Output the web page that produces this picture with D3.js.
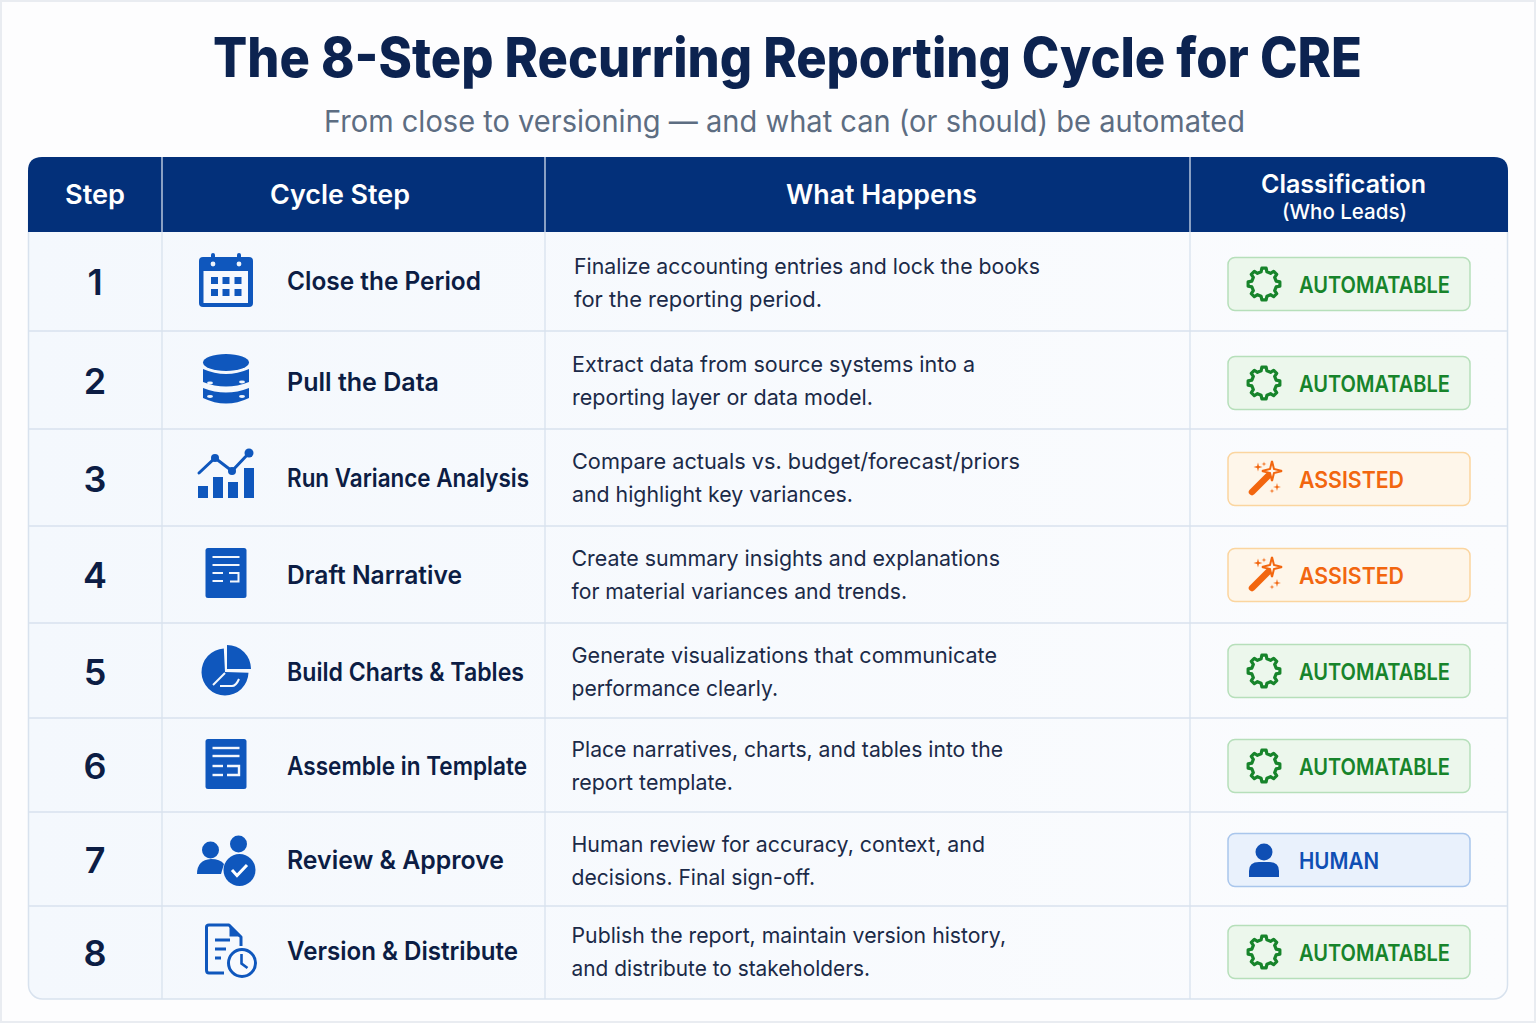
<!DOCTYPE html>
<html><head><meta charset="utf-8">
<script src="https://cdn.jsdelivr.net/npm/d3@7"></script>
<style>html,body{margin:0;padding:0;background:#fff}svg{display:block}text{font-family:Inter,"Noto Sans",sans-serif}</style>
</head><body><svg id="c" width="1536" height="1024"></svg>
<script>
const titleText = "The 8-Step Recurring Reporting Cycle for CRE";
const subtitleText = "From close to versioning — and what can (or should) be automated";
const headers = ["Step","Cycle Step","What Happens","Classification"];
const headerSub = "(Who Leads)";
const steps = [1,2,3,4,5,6,7,8];
const cycleSteps = ["Close the Period","Pull the Data","Run Variance Analysis","Draft Narrative","Build Charts & Tables","Assemble in Template","Review & Approve","Version & Distribute"];
const happensLine1 = ["Finalize accounting entries and lock the books","Extract data from source systems into a","Compare actuals vs. budget/forecast/priors","Create summary insights and explanations","Generate visualizations that communicate","Place narratives, charts, and tables into the","Human review for accuracy, context, and","Publish the report, maintain version history,"];
const happensLine2 = ["for the reporting period.","reporting layer or data model.","and highlight key variances.","for material variances and trends.","performance clearly.","report template.","decisions. Final sign-off.","and distribute to stakeholders."];
const classes = ["AUTOMATABLE","AUTOMATABLE","ASSISTED","ASSISTED","AUTOMATABLE","AUTOMATABLE","HUMAN","AUTOMATABLE"];
const icons = ["calendar","database","chart","draft","pie","template","people","version"];

// layout
const colEdges=[28,162,545,1190,1508], tableTop=157, headB=232, bot=999;
const rowEdges=[232,331,429,526,623,718,812,906,999];
const numY=d3.scaleOrdinal(steps,[281,380,478,574,671,765,859,952]);
const nameY=d3.scaleOrdinal(steps,[281,382,478,575,672,766,860,951]);
const nameW=d3.scaleOrdinal(steps,[194,152,242,175,237,240,217,231]);
const textX=d3.scaleOrdinal(steps,[574,572,572,571.5,571.5,571.5,571.5,571.5]);
const textY=d3.scaleOrdinal(steps,[273.5,371.5,468.5,566,663,757,851.5,943]);
const line1R=d3.scaleOrdinal(steps,[1040,975,1020,1000,997,1003,985,1006]);
const line2R=d3.scaleOrdinal(steps,[822,873,853,907,778,733,815,870]);
const badgeY=d3.scaleOrdinal(steps,[284,383,479,575,671,766,860,952]);
const iconC=d3.scaleOrdinal(steps,[[226,281],[226,380],[226,474],[226,573],[226,671],[226,764],[226,860],[230,950]]);
const style={AUTOMATABLE:{fg:"#17842b",bd:"#b6dfba",bg:"#ecf7ec",w:151},ASSISTED:{fg:"#f2660f",bd:"#fbd59f",bg:"#fef6ea",w:105},HUMAN:{fg:"#0f4fb4",bd:"#a9c6ec",bg:"#e9f1fc",w:80}};
const blue="#0f57bd", navy="#03307a", ink="#0c1d44", grid="#d8e2ee";
const fit=(sel,w)=>sel.attr("textLength",w).attr("lengthAdjust","spacingAndGlyphs");

const svg=d3.select("#c");
const defs=svg.append("defs");
const g1=defs.append("linearGradient").attr("id","body").attr("x1",0).attr("x2",1).attr("y1",0).attr("y2",0);
g1.append("stop").attr("offset",0).attr("stop-color","#f4f8fd");
g1.append("stop").attr("offset",1).attr("stop-color","#fbfcfe");

svg.append("rect").attr("x",1).attr("y",1).attr("width",1534).attr("height",1021).attr("fill","#fdfdfe").attr("stroke","#e9ecf1").attr("stroke-width",2);
fit(svg.append("text").attr("x",213).attr("y",77).attr("font-size",54.5).attr("font-weight",800).attr("fill","#0c2350").text(titleText),1149);
fit(svg.append("text").attr("x",324).attr("y",132).attr("font-size",30).attr("font-weight",400).attr("fill","#5d6d82").text(subtitleText),921);

// table body
svg.append("rect").attr("x",28.5).attr("y",tableTop+10).attr("width",1479).attr("height",bot-tableTop-10).attr("rx",14).attr("fill","url(#body)").attr("stroke",grid).attr("stroke-width",1.5);
// header
const x0=colEdges[0],x1=colEdges[4],r=14;
svg.append("path").attr("fill",navy).attr("d",`M${x0},${headB}V${tableTop+r}Q${x0},${tableTop} ${x0+r},${tableTop}H${x1-r}Q${x1},${tableTop} ${x1},${tableTop+r}V${headB}Z`);
// column rules
svg.selectAll(".col").data(colEdges.slice(1,4)).join("line").attr("class","col").attr("x1",d=>d).attr("x2",d=>d).attr("y1",tableTop).attr("y2",headB).attr("stroke","#e4ebf5").attr("stroke-width",1.2);
svg.selectAll(".colb").data(colEdges.slice(1,4)).join("line").attr("class","colb").attr("x1",d=>d).attr("x2",d=>d).attr("y1",headB).attr("y2",bot).attr("stroke",grid).attr("stroke-width",1.3);
svg.selectAll(".row").data(rowEdges.slice(1,8)).join("line").attr("class","row").attr("x1",x0).attr("x2",x1).attr("y1",d=>d).attr("y2",d=>d).attr("stroke",grid).attr("stroke-width",1.4);
// header labels
const hx=[65,270,786,1261], hw=[60,140,191,165], hy=[204,204,204,193];
svg.selectAll(".h").data(headers).join("text").attr("class","h").attr("x",(d,i)=>hx[i]).attr("y",(d,i)=>hy[i]).attr("textLength",(d,i)=>hw[i]).attr("lengthAdjust","spacingAndGlyphs").attr("font-size",(d,i)=>i==3?25.5:27).attr("font-weight",600).attr("fill","#fff").text(d=>d);
fit(svg.append("text").attr("x",1282).attr("y",219).attr("font-size",20.5).attr("font-weight",500).attr("fill","#fff").text(headerSub),125);

// icons
const iconFns={
 calendar(g){
  g.append("rect").attr("x",-27).attr("y",-24).attr("width",54).attr("height",50).attr("rx",4).attr("fill",blue);
  g.append("rect").attr("x",-22.5).attr("y",-10).attr("width",44.5).attr("height",32).attr("fill","#f6f9fe");
  [-13,13].forEach(x=>{g.append("rect").attr("x",x-2).attr("y",-28).attr("width",4).attr("height",9).attr("rx",2).attr("fill",blue);g.append("circle").attr("cx",x).attr("cy",-17).attr("r",2.4).attr("fill","#eef4fc");});
  [-11.5,0,12].forEach(x=>[-0.5,11.5].forEach(y=>g.append("rect").attr("x",x-3.5).attr("y",y-3.5).attr("width",7).attr("height",7).attr("fill",blue)));
 },
 database(g){
  g.append("ellipse").attr("cx",0).attr("cy",-17.5).attr("rx",23).attr("ry",8.5).attr("fill",blue);
  g.append("path").attr("fill",blue).attr("d","M-23,-11Q0,-1 23,-11V2Q0,11 -23,2Z");
  g.append("path").attr("fill",blue).attr("d","M-23,8Q0,17 23,8V18Q0,29 -23,18Z");
  [[-16,4],[16,3],[-16,17.5],[16,17.5]].forEach(([x,y])=>g.append("ellipse").attr("cx",x).attr("cy",y-1).attr("rx",3).attr("ry",1.4).attr("fill","#f0f5fc"));
 },
 chart(g){
  [[-28,12],[-13,3],[2,8],[18,-6]].forEach(([x,y])=>g.append("rect").attr("x",x).attr("y",y).attr("width",10).attr("height",24-y).attr("fill",blue));
  g.append("path").attr("fill","none").attr("stroke",blue).attr("stroke-width",3).attr("stroke-linecap","round").attr("d","M-27,-1L-11,-16L6,-3L23,-21");
  [[-11,-16,4],[6,-3,4],[23,-21,4.5]].forEach(([x,y,q])=>g.append("circle").attr("cx",x).attr("cy",y).attr("r",q).attr("fill",blue));
 },
 draft(g){
  g.append("rect").attr("x",-20.5).attr("y",-25).attr("width",41).attr("height",50).attr("rx",2.5).attr("fill",blue);
  const s=(d,w=2)=>g.append("path").attr("d",d).attr("fill","none").attr("stroke","#f3f7fd").attr("stroke-width",w);
  s("M-13.5,-16H13.5");s("M-13.5,-8H13.5");s("M-13.5,0H-3");s("M-13.5,8H-3");s("M3,0H12.5V8.5H4");
 },
 pie(g){
  g.append("path").attr("transform","translate(-1,1)").attr("fill",blue).attr("d",d3.arc().innerRadius(0).outerRadius(23.5).startAngle(Math.PI/2+.03).endAngle(2*Math.PI-.05)());
  g.append("path").attr("transform","translate(1,-2)").attr("fill",blue).attr("d",d3.arc().innerRadius(0).outerRadius(24).startAngle(0).endAngle(Math.PI/2)());
  g.append("path").attr("d","M-13,14L-1,2").attr("fill","none").attr("stroke","#f4f8fd").attr("stroke-width",2);
  g.append("path").attr("d","M-6,15H6Q10,15 13,8").attr("fill","none").attr("stroke","#f4f8fd").attr("stroke-width",2);
 },
 template(g){
  g.append("rect").attr("x",-20.5).attr("y",-25).attr("width",41).attr("height",50).attr("rx",2.5).attr("fill",blue);
  const s=(d,w=2.4)=>g.append("path").attr("d",d).attr("fill","none").attr("stroke","#f3f7fd").attr("stroke-width",w);
  s("M-13.5,-16H13.5");s("M-13.5,-8H13.5");s("M-13.5,2H-3");s("M-13.5,11H-3");s("M1,2H13V11H1");
 },
 people(g){
  g.append("circle").attr("cx",-15.5).attr("cy",-10).attr("r",8.5).attr("fill",blue);
  g.append("circle").attr("cx",12.5).attr("cy",-16).attr("r",8.5).attr("fill",blue);
  g.append("path").attr("fill",blue).attr("d","M-29,14Q-29,0 -15,-1Q-6,-1 -2,4L-5,14Z");
  g.append("circle").attr("cx",13.5).attr("cy",10).attr("r",16).attr("fill",blue);
  g.append("path").attr("d","M6,10L11,15.5L21,5").attr("fill","none").attr("stroke","#fff").attr("stroke-width",3);
 },
 version(g){
  g.append("path").attr("fill","none").attr("stroke",blue).attr("stroke-width",3).attr("stroke-linejoin","round").attr("d","M-6,23H-21Q-23.5,23 -23.5,20V-23Q-23.5,-25 -21,-25H-1L11,-13V-4");
  g.append("path").attr("fill",blue).attr("d","M-0.5,-24L10,-13.5H-0.5Z");
  g.append("path").attr("fill","none").attr("stroke",blue).attr("stroke-width",3).attr("d","M-15,-10H0M-15,-1H-4M-15,8H-9");
  g.append("circle").attr("cx",12).attr("cy",13).attr("r",13.5).attr("fill","#f8fafe").attr("stroke",blue).attr("stroke-width",3);
  g.append("path").attr("fill","none").attr("stroke",blue).attr("stroke-width",2.6).attr("d","M11.5,4V13.5L17.5,18");
 }
};
// badge glyphs
function gearPath(R,q,n){
 const pts=[];const st=2*Math.PI/n;
 for(let i=0;i<n;i++){const a=i*st-Math.PI/2;
  [[-.3,q],[-.17,R],[.17,R],[.3,q]].forEach(([f,rad])=>pts.push([rad*Math.cos(a+f*st),rad*Math.sin(a+f*st)]));
 }
 return d3.line().curve(d3.curveLinearClosed)(pts);
}
const starPath=(x,y,R)=>{const q=R*.28,p=[];for(let i=0;i<8;i++){const a=i*Math.PI/4-Math.PI/2,m=i%2?q:R;p.push([x+m*Math.cos(a),y+m*Math.sin(a)]);}return d3.line().curve(d3.curveLinearClosed)(p);};
const badgeFns={
 AUTOMATABLE(g,c){g.append("path").attr("d",gearPath(16,12.5,8)).attr("fill","none").attr("stroke",c).attr("stroke-width",3.2).attr("stroke-linejoin","round");},
 ASSISTED(g,c){
  g.append("line").attr("x1",-13).attr("y1",13).attr("x2",3).attr("y2",-3).attr("stroke",c).attr("stroke-width",6.5).attr("stroke-linecap","round");
  g.append("path").attr("d",starPath(7,-8,10)).attr("fill","#fef6ea").attr("stroke",c).attr("stroke-width",2);
  [[-7,-12,4.5],[12,8,4],[7,12,2.5],[-1,-15,2.5]].forEach(([x,y,q])=>g.append("path").attr("d",starPath(x,y,q)).attr("fill",c));
 },
 HUMAN(g,c){
  g.append("circle").attr("cx",0).attr("cy",-8).attr("r",8.5).attr("fill",c);
  g.append("path").attr("d","M-15,17V11Q-15,2 -5,2H5Q15,2 15,11V17Z").attr("fill",c);
 }
};

const rows=svg.selectAll(".r").data(steps).join("g").attr("class","r");
rows.each(function(s,i){
 const g=d3.select(this);
 g.append("text").attr("x",95).attr("y",numY(s)+13.5).attr("text-anchor","middle").attr("font-size",36).attr("font-weight",600).attr("fill",ink).text(s);
 const ic=iconC(s);
 iconFns[icons[i]](g.append("g").attr("transform",`translate(${ic[0]},${ic[1]})`));
 fit(g.append("text").attr("x",287).attr("y",nameY(s)+9).attr("font-size",25.5).attr("font-weight",600).attr("fill",ink).text(cycleSteps[i]),nameW(s));
 const body=(txt,y,right)=>fit(g.append("text").attr("x",textX(s)).attr("y",y).attr("font-size",22).attr("font-weight",400).attr("fill","#1b2a48").text(txt),right-textX(s));
 body(happensLine1[i],textY(s),line1R(s));
 body(happensLine2[i],textY(s)+33,line2R(s));
 const c=classes[i],st=style[c],by=badgeY(s);
 g.append("rect").attr("x",1228).attr("y",by-26.5).attr("width",242).attr("height",53).attr("rx",7).attr("fill",st.bg).attr("stroke",st.bd).attr("stroke-width",1.5);
 badgeFns[c](g.append("g").attr("transform",`translate(${c==="ASSISTED"?1265:1264},${by})`),st.fg);
 fit(g.append("text").attr("x",1299).attr("y",by+8.5).attr("font-size",23).attr("font-weight",600).attr("fill",st.fg).text(c),st.w);
});
</script></body></html>
